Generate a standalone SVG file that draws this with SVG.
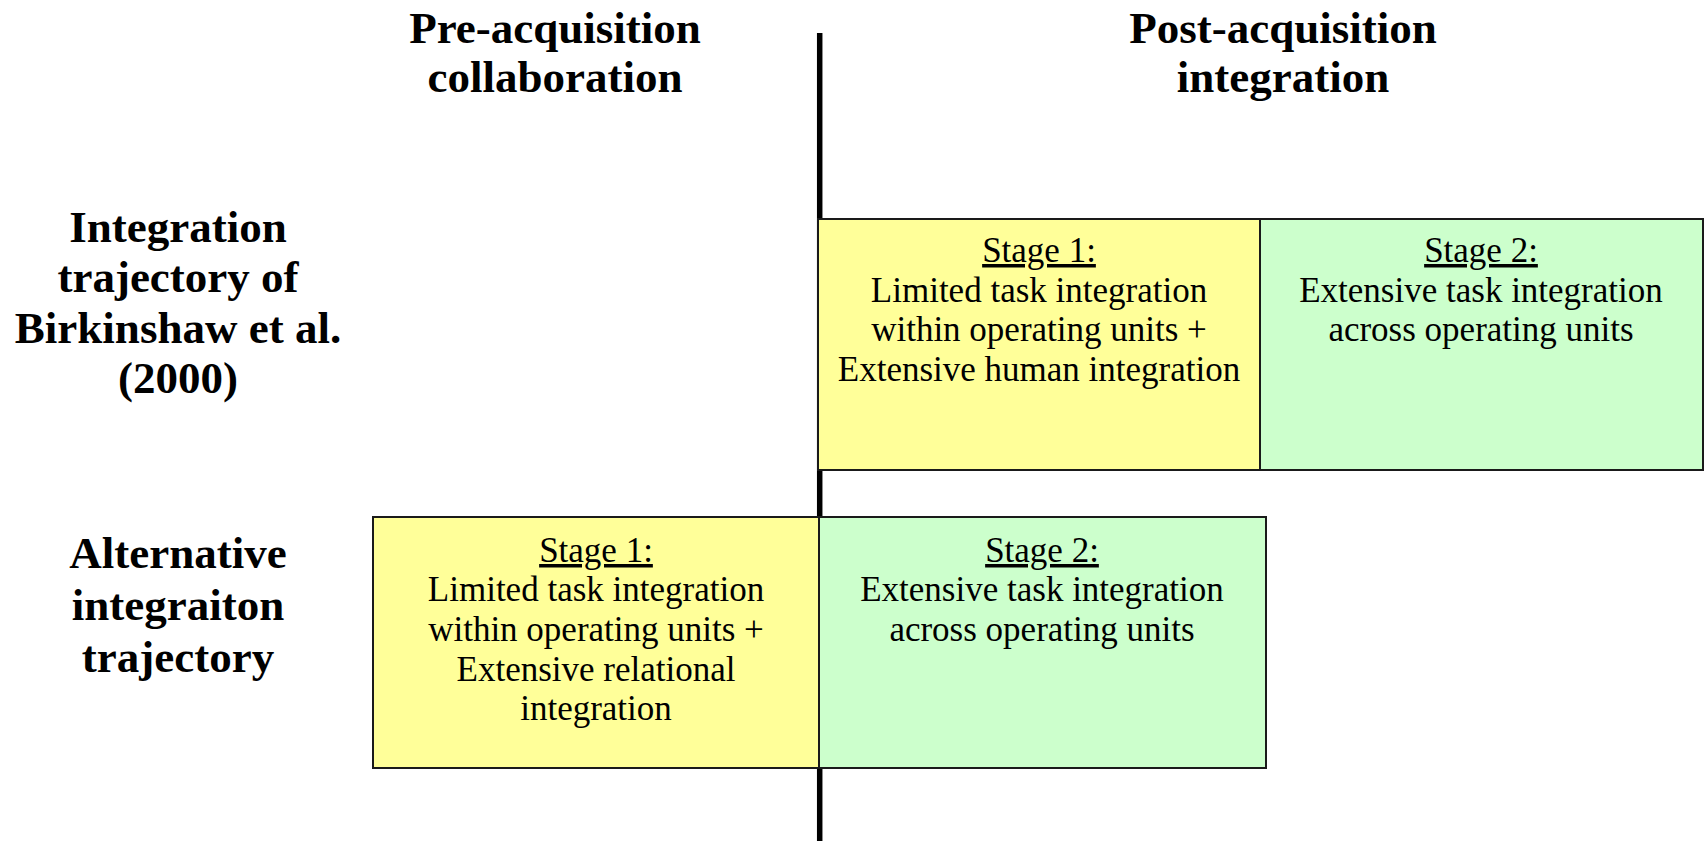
<svg xmlns="http://www.w3.org/2000/svg" width="1705" height="841" viewBox="0 0 1705 841">
  <style>
    .head { font-family: "Liberation Serif", "Times New Roman", serif; font-weight: bold; font-size: 45px; fill: #000; text-anchor: middle; }
    .body { font-family: "Liberation Serif", "Times New Roman", serif; font-size: 35px; fill: #000; text-anchor: middle; }
    .stage { text-decoration: underline; }
    .box { stroke: #1a1a1a; stroke-width: 2; }
    .yellow { fill: #FFFF99; }
    .green { fill: #CCFFCC; }
  </style>
  <rect width="1705" height="841" fill="#fff"/>

  <!-- divider between the two phases -->
  <g id="connectors">
    <line x1="819.7" y1="33" x2="819.7" y2="841" stroke="#000" stroke-width="5.5"/>
  </g>

  <!-- column headings -->
  <g id="head-pre">
    <text class="head" x="555" y="43">Pre-acquisition</text>
    <text class="head" x="555" y="92">collaboration</text>
  </g>
  <g id="head-post">
    <text class="head" x="1283" y="43">Post-acquisition</text>
    <text class="head" x="1283" y="92">integration</text>
  </g>

  <!-- row headings -->
  <g id="row-birkinshaw">
    <text class="head" x="178" y="242">Integration</text>
    <text class="head" x="178" y="292">trajectory of</text>
    <text class="head" x="178" y="343">Birkinshaw et al.</text>
    <text class="head" x="178" y="393">(2000)</text>
  </g>
  <g id="row-alternative">
    <text class="head" x="178" y="568">Alternative</text>
    <text class="head" x="178" y="620">integraiton</text>
    <text class="head" x="178" y="672">trajectory</text>
  </g>

  <!-- top row: Birkinshaw et al. -->
  <g id="top-stage1">
    <rect class="box yellow" x="818" y="219" width="442" height="251"/>
    <text class="body stage" x="1039" y="262">Stage 1:</text>
    <text class="body" x="1039" y="301.5">Limited task integration</text>
    <text class="body" x="1039" y="341">within operating units +</text>
    <text class="body" x="1039" y="381">Extensive human integration</text>
  </g>
  <g id="top-stage2">
    <rect class="box green" x="1260" y="219" width="443" height="251"/>
    <text class="body stage" x="1481" y="262">Stage 2:</text>
    <text class="body" x="1481" y="301.5">Extensive task integration</text>
    <text class="body" x="1481" y="341">across operating units</text>
  </g>

  <!-- bottom row: alternative trajectory -->
  <g id="alt-stage1">
    <rect class="box yellow" x="373" y="517" width="446" height="251"/>
    <text class="body stage" x="596" y="562">Stage 1:</text>
    <text class="body" x="596" y="601">Limited task integration</text>
    <text class="body" x="596" y="641">within operating units +</text>
    <text class="body" x="596" y="681">Extensive relational</text>
    <text class="body" x="596" y="720">integration</text>
  </g>
  <g id="alt-stage2">
    <rect class="box green" x="819" y="517" width="447" height="251"/>
    <text class="body stage" x="1042" y="562">Stage 2:</text>
    <text class="body" x="1042" y="601">Extensive task integration</text>
    <text class="body" x="1042" y="641">across operating units</text>
  </g>
</svg>
